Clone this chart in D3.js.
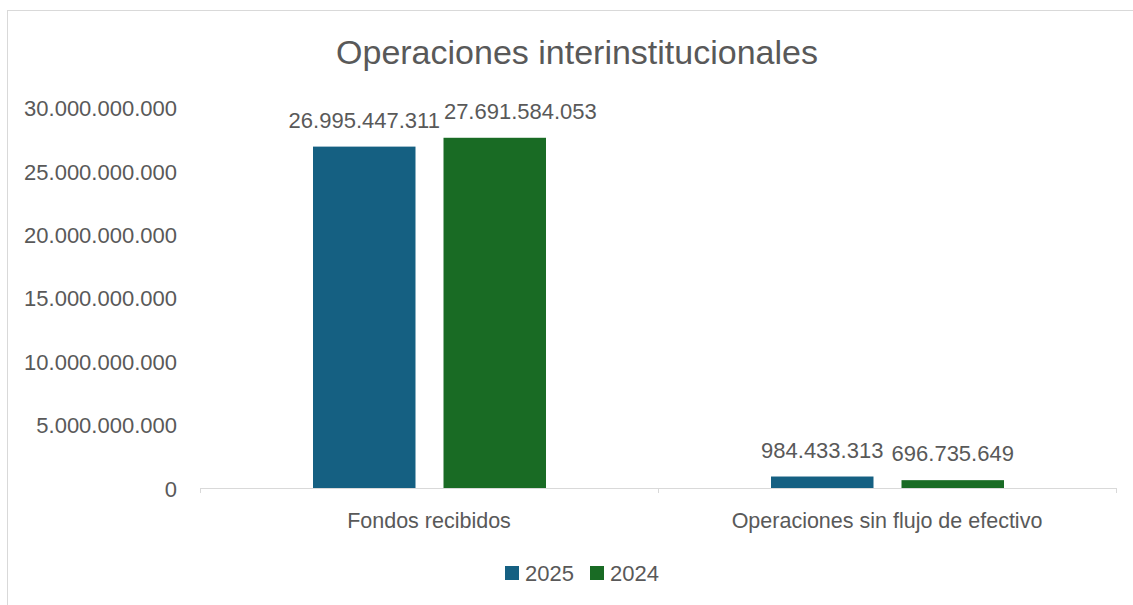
<!DOCTYPE html>
<html>
<head>
<meta charset="utf-8">
<script src="https://cdn.jsdelivr.net/npm/d3@7"></script>
<style>
  body { margin: 0; background: #fff; }
  text { font-family: "Liberation Sans", Arial, sans-serif; fill: #595959; }
</style>
</head>
<body>
<div id="chart"></div>
<script>
var width = 1133;
var height = 605;

// datos
var categories = ['Fondos recibidos', 'Operaciones sin flujo de efectivo'];
var seriesNames = ['2025', '2024'];
var values2025 = [26995447311, 984433313];
var values2024 = [27691584053, 696735649];
var yTicks = [0, 5000000000, 10000000000, 15000000000, 20000000000, 25000000000, 30000000000];
var colors = ['#156082', '#196b24'];

var fmt = d3.formatLocale({ decimal: ',', thousands: '.', grouping: [3], currency: ['', ''] }).format(',d');

var svg = d3.select('#chart')
  .append('svg')
  .attr('width', width)
  .attr('height', height);

// marco
svg.append('rect')
  .attr('x', 7.5).attr('y', 10.5)
  .attr('width', 1140).attr('height', 620)
  .attr('fill', 'none')
  .attr('stroke', '#d9d9d9');

svg.append('text')
  .attr('x', 577).attr('y', 64)
  .attr('text-anchor', 'middle')
  .style('font-size', '34px')
  .text('Operaciones interinstitucionales');

var plotLeft = 200, plotRight = 1116, plotTop = 108.5, plotBottom = 489;

var x = d3.scaleBand().domain(categories).range([plotLeft, plotRight]);
var xInner = d3.scaleBand().domain(seriesNames).range([113, 346]).paddingInner(0.2146);
var y = d3.scaleLinear().domain([0, 30000000000]).range([plotBottom, plotTop]);

// eje y (solo etiquetas)
svg.append('g')
  .selectAll('text')
  .data(yTicks)
  .enter()
  .append('text')
  .attr('x', 177)
  .attr('y', d => y(d))
  .attr('dy', '0.35em')
  .attr('text-anchor', 'end')
  .style('font-size', '22px')
  .text(d => fmt(d));

var series = seriesNames.map((name, i) => ({
  name: name,
  color: colors[i],
  values: i === 0 ? values2025 : values2024
}));

var groups = svg.selectAll('g.serie')
  .data(series)
  .enter()
  .append('g')
  .attr('class', 'serie');

groups.selectAll('rect')
  .data(s => s.values.map((v, j) => ({ v: v, cat: categories[j], name: s.name, color: s.color })))
  .enter()
  .append('rect')
  .attr('x', d => x(d.cat) + xInner(d.name))
  .attr('y', d => y(d.v))
  .attr('width', xInner.bandwidth())
  .attr('height', d => plotBottom - y(d.v))
  .attr('fill', d => d.color);

var labels = groups.selectAll('text')
  .data(s => s.values.map((v, j) => ({ v: v, cat: categories[j], name: s.name })))
  .enter()
  .append('text')
  .attr('x', d => x(d.cat) + xInner(d.name) + xInner.bandwidth() / 2)
  .attr('y', d => y(d.v) - 19)
  .attr('text-anchor', 'middle')
  .style('font-size', '22px')
  .text(d => fmt(d.v));

// evitar que las etiquetas se pisen (como hace Excel)
categories.forEach(cat => {
  var prevRight = -Infinity;
  labels.filter(d => d.cat === cat).each(function (d) {
    var w = this.getComputedTextLength();
    var cx = +d3.select(this).attr('x');
    if (cx - w / 2 < prevRight + 4) {
      cx = prevRight + 4 + w / 2;
      d3.select(this).attr('x', cx);
    }
    prevRight = cx + w / 2;
  });
});

// eje x
var xAxis = svg.append('g');
xAxis.append('line')
  .attr('x1', plotLeft).attr('x2', plotRight)
  .attr('y1', plotBottom - 0.5).attr('y2', plotBottom - 0.5)
  .attr('stroke', '#d9d9d9');
xAxis.selectAll('line.tick')
  .data([plotLeft].concat(categories.map(c => x(c) + x.bandwidth())))
  .enter()
  .append('line')
  .attr('class', 'tick')
  .attr('x1', d => Math.round(d) + 0.5).attr('x2', d => Math.round(d) + 0.5)
  .attr('y1', plotBottom - 1).attr('y2', plotBottom + 4)
  .attr('stroke', '#d9d9d9');
xAxis.selectAll('text')
  .data(categories)
  .enter()
  .append('text')
  .attr('x', d => x(d) + x.bandwidth() / 2)
  .attr('y', 520)
  .attr('dy', '0.35em')
  .attr('text-anchor', 'middle')
  .style('font-size', '21.5px')
  .text(d => d);

// leyenda
var legend = svg.append('g');
var legendX = [505, 590];
series.forEach((s, i) => {
  legend.append('rect')
    .attr('x', legendX[i]).attr('y', 566)
    .attr('width', 14).attr('height', 14)
    .attr('fill', s.color);
  legend.append('text')
    .attr('x', legendX[i] + 20).attr('y', 573)
    .attr('dy', '0.35em')
    .style('font-size', '22px')
    .text(s.name);
});
</script>
</body>
</html>
